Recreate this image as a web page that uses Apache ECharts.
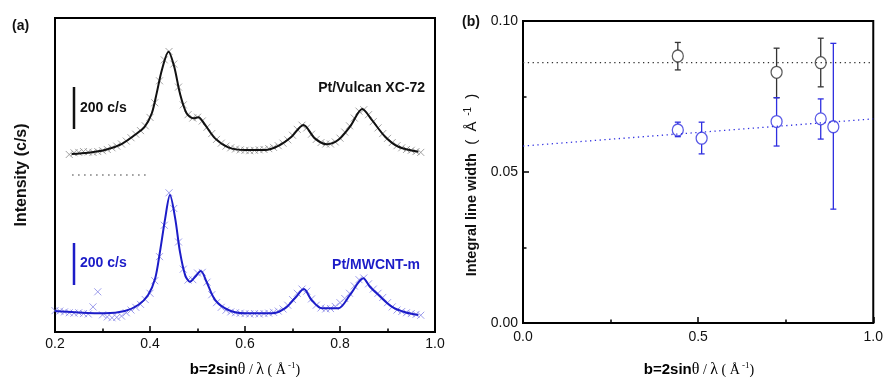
<!DOCTYPE html>
<html>
<head>
<meta charset="utf-8">
<script src="https://cdn.jsdelivr.net/npm/echarts@6/dist/echarts.min.js"></script>
<style>
  html, body { margin: 0; padding: 0; background: #fff; }
  #chart { width: 886px; height: 377px; }
</style>
</head>
<body>
<div id="chart"></div>
<script>
// ---------- Panel (a): XRD profiles (intensity with vertical offset, c/s) ----------
// measured points, sampled every 0.01 in b
const vulcanStart = 0.23;
const vulcanMeasured = [
  848, 856, 858, 862, 860, 858, 862, 866, 872, 880,
  888, 898, 912, 928, 945, 962, 985, 1025, 1095, 1200,
  1300, 1340, 1280, 1170, 1085, 1038, 1022, 1026, 1008, 978,
  948, 920, 902, 888, 880, 874, 870, 868, 866, 868,
  870, 872, 876, 882, 890, 902, 918, 940, 968, 988,
  975, 945, 920, 905, 898, 898, 908, 926, 955, 985,
  1022, 1055, 1062, 1038, 1005, 975, 948, 925, 905, 890,
  880, 872, 868, 862, 858
];
const mwcntStart = 0.20;
const mwcntMeasured = [
  102, 100, 96, 92, 90, 92, 88, 86, 120, 192,
  82, 72, 68, 70, 76, 92, 105, 118, 132, 155,
  185, 245, 360, 510, 665, 590, 430, 300, 248, 250,
  282, 285, 238, 178, 140, 118, 104, 96, 92, 90,
  88, 86, 88, 86, 88, 90, 94, 100, 110, 128,
  155, 185, 205, 195, 158, 128, 115, 110, 112, 122,
  140, 160, 185, 220, 250, 258, 230, 205, 185, 165,
  140, 120, 105, 98, 92, 88, 84, 80
];
// fitted profiles
const vulcanFitB = [0.235, 0.270, 0.305, 0.340, 0.368, 0.389, 0.404, 0.414, 0.425, 0.439,
  0.451, 0.463, 0.477, 0.491, 0.502, 0.516, 0.537, 0.565, 0.600, 0.642,
  0.670, 0.698, 0.723, 0.747, 0.772, 0.796, 0.821, 0.847, 0.867, 0.895, 0.923, 0.965];
const vulcanFitI = [850, 856, 869, 898, 941, 981, 1046, 1140, 1252, 1339,
  1267, 1140, 1045, 1021, 1026, 989, 925, 882, 869, 869,
  889, 933, 989, 925, 897, 917, 981, 1065, 1013, 933, 885, 861];
const mwcntFitB = [0.200, 0.242, 0.305, 0.347, 0.375, 0.396, 0.411, 0.421, 0.432, 0.442,
  0.453, 0.463, 0.474, 0.484, 0.495, 0.507, 0.519, 0.537, 0.565, 0.600,
  0.656, 0.684, 0.705, 0.724, 0.740, 0.762, 0.796, 0.821, 0.849, 0.863,
  0.881, 0.909, 0.937, 0.965];
const mwcntFitI = [100, 94, 89, 100, 129, 177, 257, 384, 543, 654,
  543, 384, 272, 240, 264, 291, 240, 153, 105, 89,
  89, 113, 161, 205, 153, 113, 113, 177, 257, 216,
  177, 121, 94, 81];
// separator and 200 c/s scale bars
const separatorB = [0.236, 0.396];
const separatorI = 750;
const scaleBarB = 0.24;
const vulcanBar = [970, 1170];
const mwcntBar = [225, 425];
const xTicksA = [0.2, 1.0, 0.2]; // min, max, step

// ---------- Panel (b): integral line width vs b ----------
const vulcanB = [0.442, 0.724, 0.850];
const vulcanW = [0.0884, 0.0830, 0.0862];
const vulcanLo = [0.0838, 0.0746, 0.0782];
const vulcanHi = [0.0929, 0.0910, 0.0943];
const mwcntB = [0.442, 0.510, 0.724, 0.850, 0.886];
const mwcntW = [0.0639, 0.0612, 0.0667, 0.0676, 0.0650];
const mwcntLo = [0.0617, 0.0560, 0.0586, 0.0609, 0.0377];
const mwcntHi = [0.0665, 0.0665, 0.0746, 0.0742, 0.0926];
const vulcanTrend = [[0, 0.0862], [1, 0.0862]];
const mwcntTrend = [[0, 0.0586], [1, 0.0676]];

const BLACK = '#111111';
const BLUE = '#1c1cc8';
const BLUE_B = '#2f2fe0';
const FONT = '"Liberation Sans", Arial, sans-serif';
const SERIF = '"Liberation Serif", "DejaVu Serif", serif';

const sampled = (start, arr) => arr.map((v, i) => [+(start + i * 0.01).toFixed(3), v]);
const zip = (xs, ys) => xs.map((x, i) => [x, ys[i]]);

const crossPath = 'path://M0,0L10,10M10,0L0,10';

function errorBars(color) {
  return function (params, api) {
    const x = api.value(0), y = api.value(1), lo = api.value(2), hi = api.value(3);
    const c = api.coord([x, y]);
    const pl = api.coord([x, lo]);
    const ph = api.coord([x, hi]);
    const gap = 6, cap = 3;
    const st = { stroke: color, lineWidth: 1.3 };
    const kids = [];
    if (c[1] - gap > ph[1]) kids.push({ type: 'line', shape: { x1: c[0], y1: ph[1], x2: c[0], y2: c[1] - gap }, style: st });
    if (pl[1] > c[1] + gap) kids.push({ type: 'line', shape: { x1: c[0], y1: c[1] + gap, x2: c[0], y2: pl[1] }, style: st });
    kids.push({ type: 'line', shape: { x1: c[0] - cap, y1: ph[1], x2: c[0] + cap, y2: ph[1] }, style: st });
    kids.push({ type: 'line', shape: { x1: c[0] - cap, y1: pl[1], x2: c[0] + cap, y2: pl[1] }, style: st });
    return { type: 'group', children: kids };
  };
}

const axisCommon = {
  axisLine: { show: false },
  splitLine: { show: false },
  axisLabel: { color: '#111', fontFamily: FONT, fontSize: 14 },
  axisTick: { inside: true, length: 6, lineStyle: { color: '#000', width: 1.5 } },
  minorTick: { show: true, splitNumber: 2, length: 3.5, lineStyle: { color: '#000', width: 1.5 } }
};

const chart = echarts.init(document.getElementById('chart'), null, { renderer: 'canvas' });

const titleRich = {
  b: { fontFamily: FONT, fontWeight: 'bold', fontSize: 15, color: '#111' },
  g: { fontFamily: SERIF, fontSize: 16, color: '#111' },
  n: { fontFamily: SERIF, fontSize: 14, color: '#111' },
  s: { fontFamily: SERIF, fontSize: 9, color: '#111', verticalAlign: 'top', lineHeight: 18 }
};
const bTitle = '{b|b=2sin}{g|θ}{n| / }{g|λ}{n| ( Å}{s| -1}{n|)}';

chart.setOption({
  animation: false,
  backgroundColor: '#fff',
  grid: [
    { left: 55, top: 18, width: 380, height: 314, show: true, borderColor: '#000', borderWidth: 2 },
    { left: 523, top: 21, width: 352, height: 302, show: true, borderColor: '#000', borderWidth: 2 }
  ],
  xAxis: [
    Object.assign({}, axisCommon, {
      gridIndex: 0, type: 'value', min: xTicksA[0], max: xTicksA[1], interval: xTicksA[2],
      axisLabel: Object.assign({}, axisCommon.axisLabel, { margin: 5, formatter: v => v.toFixed(1) })
    }),
    Object.assign({}, axisCommon, {
      gridIndex: 1, type: 'value', min: 0, max: 1, interval: 0.5,
      axisLabel: Object.assign({}, axisCommon.axisLabel, { margin: 7, formatter: v => v.toFixed(1) })
    })
  ],
  yAxis: [
    {
      gridIndex: 0, type: 'value', min: 0, max: 1500,
      axisLine: { show: false }, axisTick: { show: false }, axisLabel: { show: false }, splitLine: { show: false }
    },
    Object.assign({}, axisCommon, {
      gridIndex: 1, type: 'value', min: 0, max: 0.1, interval: 0.05,
      axisLabel: Object.assign({}, axisCommon.axisLabel, { margin: 5, formatter: v => v.toFixed(2) })
    })
  ],
  series: [
    // measured points
    {
      type: 'scatter', xAxisIndex: 0, yAxisIndex: 0, data: sampled(vulcanStart, vulcanMeasured),
      symbol: crossPath, symbolSize: 7, silent: true,
      itemStyle: { color: 'rgba(0,0,0,0)', borderColor: '#8c8c8c', borderWidth: 1 }
    },
    {
      type: 'scatter', xAxisIndex: 0, yAxisIndex: 0, data: sampled(mwcntStart, mwcntMeasured),
      symbol: crossPath, symbolSize: 7, silent: true,
      itemStyle: { color: 'rgba(0,0,0,0)', borderColor: '#8585e6', borderWidth: 1 }
    },
    // fitted profiles
    {
      type: 'line', xAxisIndex: 0, yAxisIndex: 0, data: zip(vulcanFitB, vulcanFitI),
      showSymbol: false, smooth: 0.3, lineStyle: { color: BLACK, width: 2 }
    },
    {
      type: 'line', xAxisIndex: 0, yAxisIndex: 0, data: zip(mwcntFitB, mwcntFitI),
      showSymbol: false, smooth: 0.3, lineStyle: { color: BLUE, width: 2 }
    },
    // dotted separator
    {
      type: 'line', xAxisIndex: 0, yAxisIndex: 0, data: separatorB.map(b => [b, separatorI]),
      showSymbol: false, lineStyle: { color: '#777', width: 1.5, type: [1.5, 4.5] }
    },
    // scale bars
    {
      type: 'line', xAxisIndex: 0, yAxisIndex: 0, data: vulcanBar.map(v => [scaleBarB, v]),
      showSymbol: false, lineStyle: { color: BLACK, width: 2.5 }
    },
    {
      type: 'line', xAxisIndex: 0, yAxisIndex: 0, data: mwcntBar.map(v => [scaleBarB, v]),
      showSymbol: false, lineStyle: { color: BLUE, width: 2.5 }
    },
    // panel (b) trend lines
    {
      type: 'line', xAxisIndex: 1, yAxisIndex: 1, data: vulcanTrend,
      showSymbol: false, lineStyle: { color: '#333', width: 1.3, type: [1.3, 3.5] }
    },
    {
      type: 'line', xAxisIndex: 1, yAxisIndex: 1, data: mwcntTrend,
      showSymbol: false, lineStyle: { color: BLUE_B, width: 1.3, type: [1.3, 3.5] }
    },
    // error bars
    {
      type: 'custom', xAxisIndex: 1, yAxisIndex: 1,
      data: vulcanB.map((b, i) => [b, vulcanW[i], vulcanLo[i], vulcanHi[i]]),
      renderItem: errorBars('#333'), encode: { x: 0, y: 1 }
    },
    {
      type: 'custom', xAxisIndex: 1, yAxisIndex: 1,
      data: mwcntB.map((b, i) => [b, mwcntW[i], mwcntLo[i], mwcntHi[i]]),
      renderItem: errorBars(BLUE_B), encode: { x: 0, y: 1 }
    },
    // line width points
    {
      type: 'scatter', xAxisIndex: 1, yAxisIndex: 1, data: zip(vulcanB, vulcanW),
      symbol: 'circle', symbolSize: [11, 12],
      itemStyle: { color: 'rgba(255,255,255,0)', borderColor: '#333', borderWidth: 1.3 }
    },
    {
      type: 'scatter', xAxisIndex: 1, yAxisIndex: 1, data: zip(mwcntB, mwcntW),
      symbol: 'circle', symbolSize: [11, 12],
      itemStyle: { color: 'rgba(255,255,255,0)', borderColor: BLUE_B, borderWidth: 1.3 }
    }
  ],
  graphic: [
    { type: 'text', x: 12, y: 26, style: { text: '(a)', font: 'bold 14px ' + FONT, fill: '#111', textVerticalAlign: 'middle' } },
    { type: 'text', x: 462, y: 22, style: { text: '(b)', font: 'bold 14px ' + FONT, fill: '#111', textVerticalAlign: 'middle' } },
    { type: 'text', x: 80, y: 108, style: { text: '200 c/s', font: 'bold 14px ' + FONT, fill: BLACK, textVerticalAlign: 'middle' } },
    { type: 'text', x: 80, y: 263, style: { text: '200 c/s', font: 'bold 14px ' + FONT, fill: BLUE, textVerticalAlign: 'middle' } },
    { type: 'text', x: 425, y: 88, style: { text: 'Pt/Vulcan XC-72', font: 'bold 14px ' + FONT, fill: BLACK, textAlign: 'right', textVerticalAlign: 'middle' } },
    { type: 'text', x: 420, y: 265, style: { text: 'Pt/MWCNT-m', font: 'bold 14px ' + FONT, fill: BLUE, textAlign: 'right', textVerticalAlign: 'middle' } },
    { type: 'text', x: 22, y: 175, rotation: Math.PI / 2, style: { text: 'Intensity (c/s)', font: 'bold 16px ' + FONT, fill: '#111', textAlign: 'center', textVerticalAlign: 'middle' } },
    { type: 'text', x: 472, y: 185, rotation: Math.PI / 2,
      style: { text: '{b|Integral line width}{n|  (  Å}{s|  -1}{n|  )}', fill: '#111', textAlign: 'center', textVerticalAlign: 'middle',
        rich: {
          b: { fontFamily: FONT, fontWeight: 'bold', fontSize: 14.5, color: '#111' },
          n: { fontFamily: FONT, fontSize: 15, color: '#111' },
          s: { fontFamily: FONT, fontSize: 10, color: '#111', verticalAlign: 'top', lineHeight: 18 }
        } } },
    { type: 'text', x: 245, y: 370, style: { text: bTitle, textAlign: 'center', textVerticalAlign: 'middle', rich: titleRich } },
    { type: 'text', x: 699, y: 370, style: { text: bTitle, textAlign: 'center', textVerticalAlign: 'middle', rich: titleRich } }
  ]
});
</script>
</body>
</html>
